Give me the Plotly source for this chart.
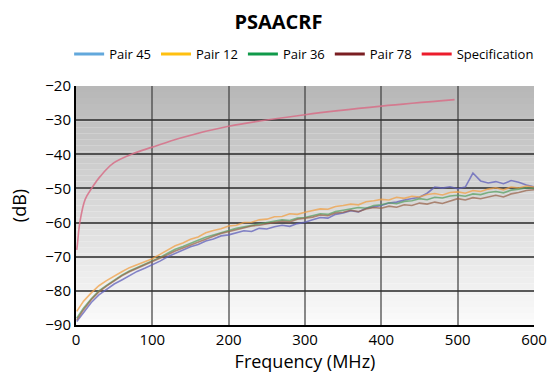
import plotly.graph_objects as go

FREQ = [1] + list(range(10, 601, 10))

PAIR_45 = [-89.0, -86.2, -83.4, -81.2, -79.6, -78.0, -76.8, -75.5, -74.3, -73.4, -72.4,
           -71.3, -70.0, -69.0, -68.2, -67.1, -66.4, -65.4, -64.8, -63.9, -63.6,
           -63.0, -62.4, -62.6, -61.7, -61.9, -61.2, -60.8, -61.1, -60.3, -59.9,
           -59.2, -58.5, -58.7, -57.6, -57.2, -56.5, -56.9, -55.8, -55.4, -55.0,
           -54.3, -54.0, -53.4, -53.0, -52.6, -51.4, -49.6, -49.9, -49.5, -50.1,
           -49.6, -45.5, -47.8, -48.4, -48.0, -48.6, -47.7, -48.2, -49.0, -49.5]
PAIR_12 = [-86.0, -83.0, -80.6, -78.5, -77.0, -75.6, -74.4, -73.2, -72.4, -71.5, -70.6,
           -69.3, -68.0, -66.8, -66.0, -64.9, -64.2, -63.0, -62.3, -61.8, -61.0,
           -60.8, -60.0, -59.9, -59.2, -59.0, -58.3, -58.2, -57.4, -57.6, -57.0,
           -56.6, -56.0, -56.1, -55.3, -55.0, -54.6, -54.8, -53.9, -53.6, -53.2,
           -53.4, -52.6, -52.9, -52.3, -52.5, -51.8, -51.5, -51.9, -51.2, -51.0,
           -51.4, -50.6, -50.9, -50.2, -49.8, -50.4, -49.6, -49.9, -49.3, -49.6]
PAIR_36 = [-88.0, -85.0, -82.3, -80.0, -78.4, -76.8, -75.4, -74.2, -73.2, -72.2, -71.4,
           -70.2, -69.0, -67.8, -67.0, -66.0, -65.2, -64.3, -63.6, -62.8, -62.3,
           -61.7, -61.2, -60.7, -60.4, -60.0, -59.7, -59.2, -59.4, -58.7, -58.5,
           -58.0, -57.4, -57.6, -56.8, -56.4, -56.0, -55.6, -55.8, -55.0, -54.8,
           -54.2, -54.5, -53.8, -53.6, -53.0, -53.3, -52.6, -52.8, -52.2, -52.0,
           -52.3, -51.6, -51.8, -51.2, -50.9, -51.3, -50.5, -50.2, -49.8, -50.0]
PAIR_78 = [-88.5, -85.5, -82.6, -80.3, -78.6, -77.0, -75.6, -74.4, -73.4, -72.5, -71.6,
           -70.5, -69.4, -68.3, -67.4, -66.5, -65.6, -64.8, -64.0, -63.2, -62.7,
           -62.0, -61.6, -61.0, -60.8, -60.3, -60.0, -59.6, -59.8, -59.0, -58.8,
           -58.4, -57.8, -58.0, -57.2, -57.0, -56.4, -56.8, -56.0, -55.6, -55.8,
           -55.2, -55.5, -54.8, -55.0, -54.3, -54.6, -54.0, -54.4, -53.6, -53.0,
           -53.4, -52.7, -53.0, -52.4, -52.0, -52.5, -51.6, -51.2, -50.6, -50.4]

SPEC_FREQ = [1, 2, 5, 12, 21, 32, 49, 75, 100, 137, 200, 300, 400, 496]
SPEC = [-68.0, -66.0, -60.0, -53.2, -49.8, -46.4, -42.6, -39.8, -37.9,
        -35.2, -31.8, -28.4, -25.9, -24.0]

SERIES = ["Pair 45", "Pair 12", "Pair 36", "Pair 78", "Specification"]
LEGEND_COLORS = ["#62a8dc", "#ffc010", "#109a4a", "#7a1e22", "#ec1c2c"]
LINE_COLORS = ["rgba(95,95,185,0.75)", "rgba(240,160,70,0.75)", "rgba(90,160,100,0.75)",
               "rgba(150,95,70,0.7)", "rgba(215,110,135,0.85)"]

X_TICKS = [0, 100, 200, 300, 400, 500, 600]
Y_TICKS = [-20, -30, -40, -50, -60, -70, -80, -90]

FONT = "Open Sans, Noto Sans, sans-serif"

fig = go.Figure()

# gradient background as bands
n = 40
for i in range(n):
    t = i / (n - 1)
    c = int(251 - t * (251 - 184))
    fig.add_shape(type="rect", xref="paper", yref="paper",
                  x0=0, x1=1, y0=i / n, y1=(i + 1) / n,
                  fillcolor=f"rgb({c},{c},{c})", line=dict(width=0), layer="below")

data = [PAIR_45, PAIR_12, PAIR_36, PAIR_78]
for name, vals, lc in zip(SERIES[:4], data, LINE_COLORS[:4]):
    fig.add_trace(go.Scatter(x=FREQ, y=vals, mode="lines", name=name,
                             line=dict(color=lc, width=1.6), showlegend=False))
fig.add_trace(go.Scatter(x=SPEC_FREQ, y=SPEC, mode="lines", name=SERIES[4],
                         line=dict(color=LINE_COLORS[4], width=1.6, shape="spline",
                                   smoothing=1.0),
                         showlegend=False))

for name, col in zip(SERIES, LEGEND_COLORS):
    fig.add_trace(go.Scatter(x=[None], y=[None], mode="lines", name=name,
                             line=dict(color=col, width=3)))

fig.update_layout(
    width=557, height=377,
    margin=dict(l=76, r=23, t=86, b=52, autoexpand=False),
    paper_bgcolor="white", plot_bgcolor="rgba(0,0,0,0)",
    font=dict(family=FONT, size=15, color="black"),
    title=dict(text="<b>PSAACRF</b>", x=0.5, xanchor="center", y=1 - 22 / 377,
               yanchor="middle", font=dict(size=20, family=FONT)),
    legend=dict(orientation="h", x=-0.015, xanchor="left", y=1 + 32 / 239,
                yanchor="middle",
                font=dict(size=13, family=FONT), itemwidth=30, tracegroupgap=0,
                bgcolor="rgba(0,0,0,0)"),
    xaxis=dict(range=[0, 600], tickvals=X_TICKS, ticks="", showline=True,
               linecolor="black", linewidth=2, showgrid=True, automargin=False,
               gridcolor="rgba(60,60,60,0.6)", gridwidth=2, zeroline=False,
               title=dict(text="Frequency (MHz)", standoff=6),
               tickfont=dict(size=15)),
    yaxis=dict(range=[-90, -20], tickvals=Y_TICKS, ticks="", showline=True,
               linecolor="black", linewidth=2, showgrid=True, automargin=False,
               gridcolor="rgba(50,50,50,0.8)", gridwidth=2, zeroline=False,
               title=dict(text="(dB)", standoff=14), tickfont=dict(size=15)),
)

fig.write_html("out.html", config={"displayModeBar": False},
               post_script="document.body.style.margin='0';document.body.style.padding='0';")
